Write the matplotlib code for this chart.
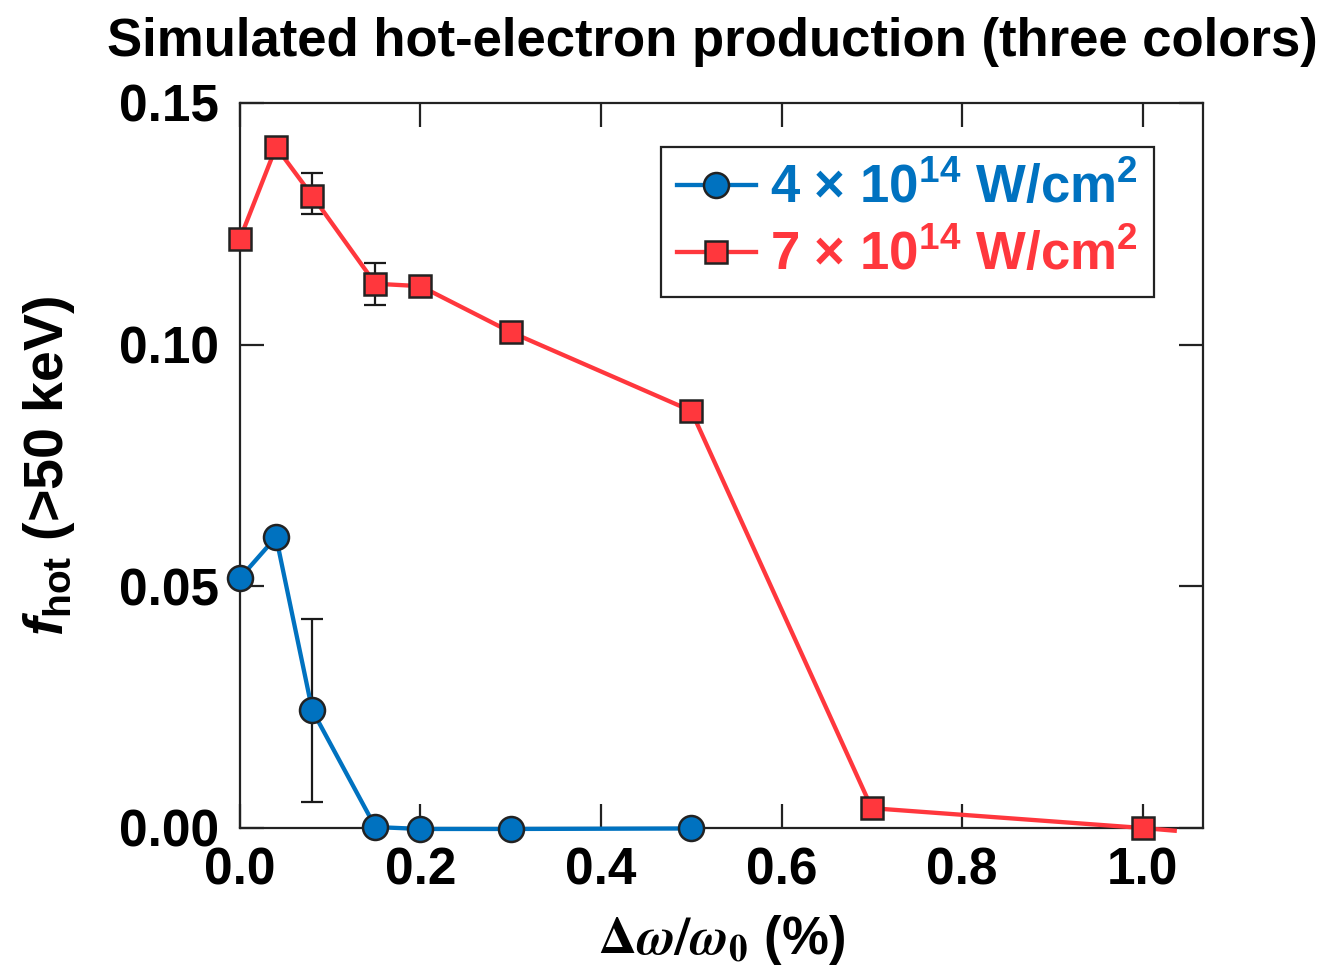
import matplotlib
matplotlib.use("Agg")
import matplotlib.pyplot as plt

plt.rcParams['font.family'] = ['Liberation Sans', 'DejaVu Sans']
plt.rcParams['font.weight'] = 'bold'
plt.rcParams['mathtext.fontset'] = 'custom'
plt.rcParams['mathtext.rm'] = 'Liberation Sans'
plt.rcParams['mathtext.bf'] = 'Liberation Sans:bold'
plt.rcParams['mathtext.it'] = 'Liberation Sans:italic:bold'
plt.rcParams['mathtext.sf'] = 'Liberation Sans:bold'

# Data
x_blue = [0.0, 0.04, 0.08, 0.15, 0.2, 0.3, 0.5]
y_blue = [0.0517, 0.0602, 0.0244, 0.0002, -0.0002, -0.0002, -0.0001]
x_red = [0.0, 0.04, 0.08, 0.15, 0.2, 0.3, 0.5, 0.7, 1.0]
y_red = [0.1219, 0.1409, 0.1308, 0.1126, 0.1121, 0.1026, 0.0863, 0.0041, 0.0]
red_tail_x = [1.0, 1.038]
red_tail_y = [0.0, -0.0006]

blue_err_x = [0.08]
blue_err_y = [0.0244]
blue_err_lo = [0.0190]
blue_err_hi = [0.0188]
red_err_x = [0.08, 0.15]
red_err_y = [0.1308, 0.1126]
red_err_lo = [0.0038, 0.0044]
red_err_hi = [0.0047, 0.0043]

blue = '#0072C0'
red = '#FF373D'

fig = plt.figure(figsize=(13.28, 9.74), dpi=100)
ax = fig.add_axes([0.1807, 0.1499, 0.9059 - 0.1807, 0.8943 - 0.1499])

ax.errorbar(blue_err_x, blue_err_y, yerr=[blue_err_lo, blue_err_hi], fmt='none',
            ecolor='#1a1a1a', elinewidth=1.6, capsize=8, capthick=1.6, zorder=2)
ax.errorbar(red_err_x, red_err_y, yerr=[red_err_lo, red_err_hi], fmt='none',
            ecolor='#1a1a1a', elinewidth=1.6, capsize=8, capthick=1.6, zorder=2)

ax.plot(red_tail_x, red_tail_y, color=red, lw=3.1, zorder=3, solid_capstyle='butt',
        clip_on=False)
ax.plot(x_red, y_red, color=red, lw=3.1, marker='s', markersize=16,
        markerfacecolor=red, markeredgecolor='#222222', markeredgewidth=1.8,
        zorder=4, clip_on=False, label=r'7 $\times$ 10$^{\mathbf{14}}$ W/cm$^{\mathbf{2}}$')
ax.plot(x_blue, y_blue, color=blue, lw=3.1, marker='o', markersize=18,
        markerfacecolor=blue, markeredgecolor='#222222', markeredgewidth=1.8,
        zorder=5, clip_on=False, label=r'4 $\times$ 10$^{\mathbf{14}}$ W/cm$^{\mathbf{2}}$')

ax.set_xlim(0.0, 1.067)
ax.set_ylim(0.0, 0.15)
ax.set_xticks([0.0, 0.2, 0.4, 0.6, 0.8, 1.0])
ax.set_xticklabels(['0.0', '0.2', '0.4', '0.6', '0.8', '1.0'])
ax.set_yticks([0.0, 0.05, 0.10, 0.15])
ax.set_yticklabels(['0.00', '0.05', '0.10', '0.15'])
ax.tick_params(direction='in', length=17, width=1.6, top=True, right=True,
               labelsize=37, color='#222222')
ax.tick_params(axis='y', pad=15)
ax.tick_params(axis='x', pad=13)
for lab in ax.get_xticklabels() + ax.get_yticklabels():
    lab.set_fontweight('bold')
for s in ax.spines.values():
    s.set_linewidth(1.6)
    s.set_color('#222222')

ax.set_xlabel(r'$\Delta\omega/\omega_{\mathbf{0}}$ (%)', fontsize=38, fontweight='bold',
              labelpad=13, math_fontfamily='stix')
ax.set_ylabel(r'$f_{\mathbf{hot}}$ (>50 keV)', fontsize=40, fontweight='bold', labelpad=30)
fig.suptitle('Simulated hot-electron production (three colors)', x=0.5365, y=0.983,
             fontsize=38, fontweight='bold', va='top')

handles, labels = ax.get_legend_handles_labels()
leg = ax.legend(handles[::-1], labels[::-1], loc='upper right',
                bbox_to_anchor=(0.949, 0.939), borderaxespad=0.0, fontsize=38,
                frameon=True, fancybox=False, edgecolor='#222222', framealpha=1,
                handlelength=1.5, handletextpad=0.27,
                labelspacing=0.3, borderpad=0.3)
leg.get_frame().set_linewidth(1.6)
for txt, col in zip(leg.get_texts(), [blue, red]):
    txt.set_color(col)

fig.savefig('out.png', dpi=100)
